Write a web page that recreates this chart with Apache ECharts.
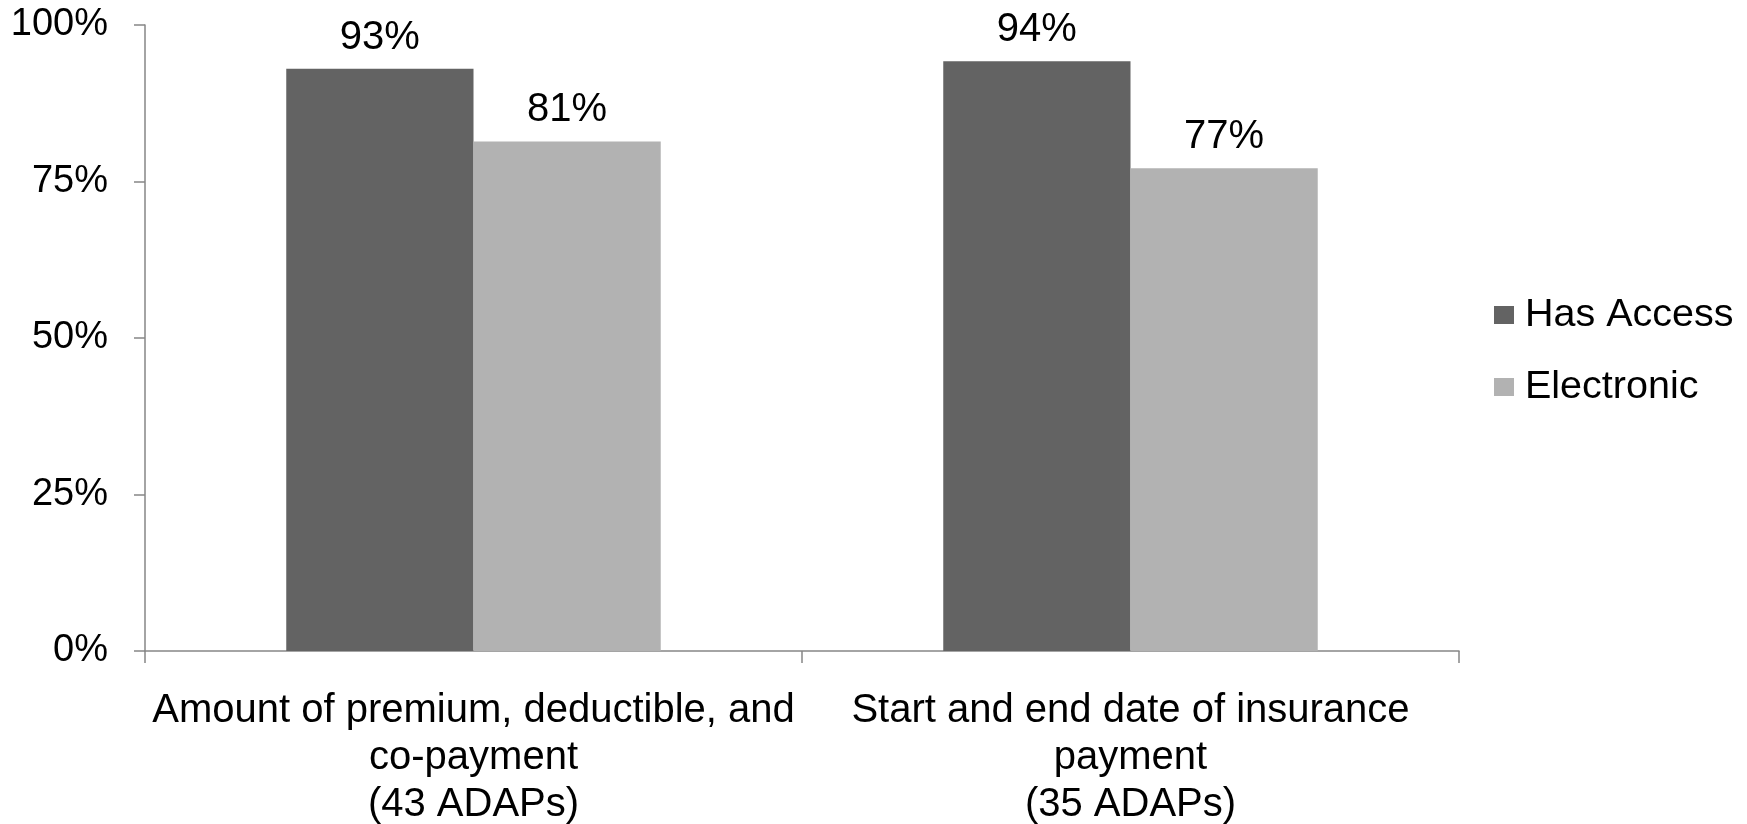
<!DOCTYPE html>
<html>
<head>
<meta charset="utf-8">
<script src="https://cdn.jsdelivr.net/npm/echarts@6/dist/echarts.min.js"></script>
<style>
  html, body { margin: 0; padding: 0; background: #fff; }
  #chart { width: 1747px; height: 824px; }
</style>
</head>
<body>
<div id="chart"></div>
<script>
// categories and values
const categories = [
  "Amount of premium, deductible, and\nco-payment\n(43 ADAPs)",
  "Start and end date of insurance\npayment\n(35 ADAPs)"
];
const hasAccess = [93.0, 94.2];
const electronic = [81.4, 77.1];
const yTicks = [0, 25, 50, 75, 100];

const font = "'Liberation Sans', Arial, sans-serif";
const axisGray = "#868686";

const chart = echarts.init(document.getElementById("chart"));

const labelCfg = {
  show: true,
  position: "top",
  distance: 11,
  color: "#000",
  fontSize: 40,
  fontFamily: font,
  formatter: (p) => Math.round(p.value) + "%",
};

chart.setOption({
  animation: false,
  color: ["#636363", "#b2b2b2"],
  grid: { left: 145, right: 288, top: 25, bottom: 173, containLabel: false, outerBoundsMode: "none" },
  legend: {
    orient: "vertical",
    left: 1494,
    top: 295,
    padding: 0,
    itemWidth: 20,
    itemHeight: 18,
    itemGap: 32,
    icon: "rect",
    textStyle: { fontSize: 39.5, fontFamily: font, color: "#000", padding: [0, 0, 0, 6] },
    data: ["Has Access", "Electronic"],
  },
  xAxis: {
    type: "category",
    data: categories,
    boundaryGap: true,
    axisLine: { lineStyle: { color: axisGray, width: 1.5 } },
    axisTick: { show: true, alignWithLabel: false, length: 12, lineStyle: { color: axisGray, width: 1.5 } },
    axisLabel: {
      interval: 0,
      margin: 36,
      color: "#000",
      fontSize: 40,
      lineHeight: 47,
      fontFamily: font,
      align: "center",
    },
  },
  yAxis: {
    type: "value",
    min: yTicks[0],
    max: yTicks[yTicks.length - 1],
    interval: 25,
    splitLine: { show: false },
    axisLine: { show: true, lineStyle: { color: axisGray, width: 1.5 } },
    axisTick: { show: true, length: 11, lineStyle: { color: axisGray, width: 1.5 } },
    axisLabel: {
      margin: 37,
      color: "#000",
      fontSize: 38,
      fontFamily: font,
      formatter: "{value}%",
    },
  },
  series: [
    {
      name: "Has Access",
      type: "bar",
      data: hasAccess,
      barGap: "0%",
      barCategoryGap: "43%",
      label: labelCfg,
    },
    {
      name: "Electronic",
      type: "bar",
      data: electronic,
      label: labelCfg,
    },
  ],
});
</script>
</body>
</html>
